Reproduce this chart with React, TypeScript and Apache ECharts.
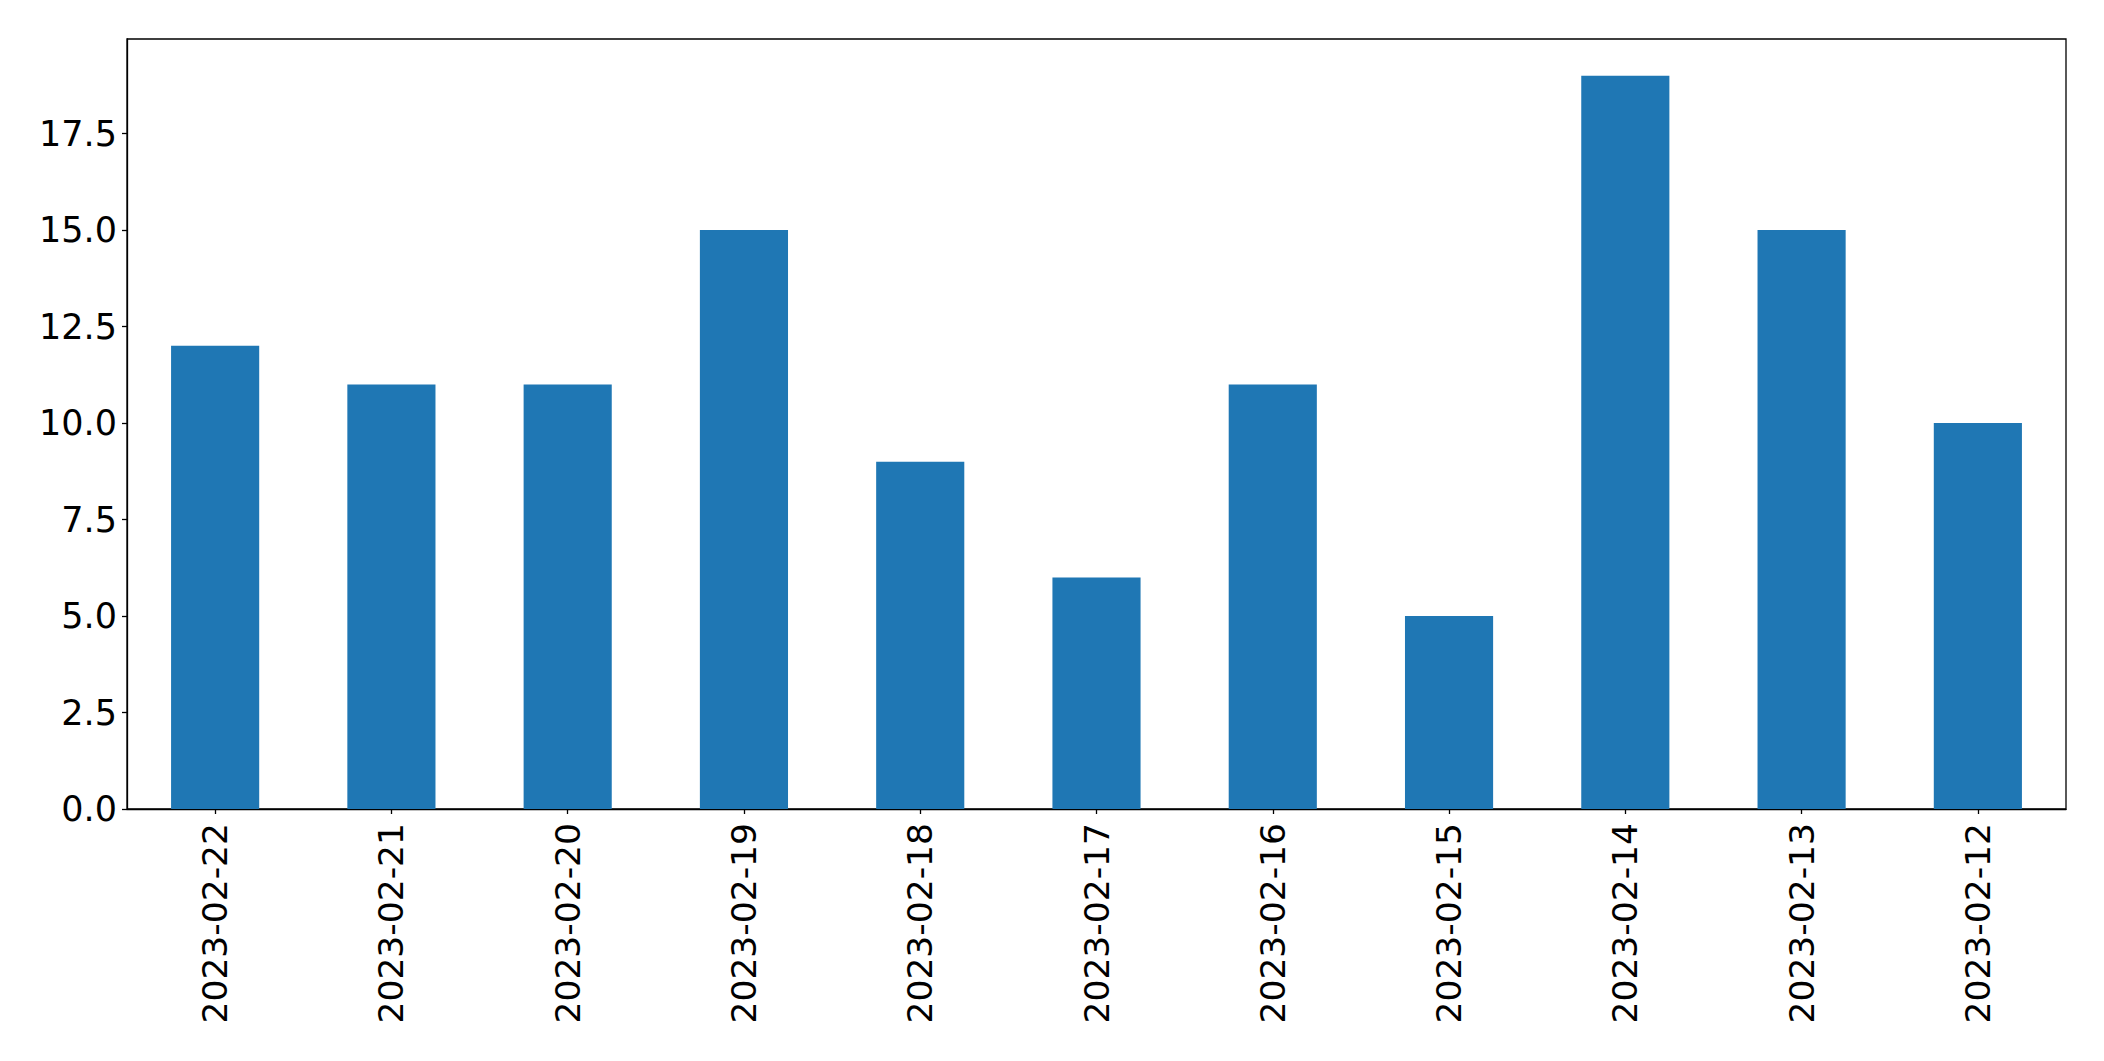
import React, { useEffect, useRef } from "react";
import * as echarts from "echarts";

const categories = [
  "2023-02-22", "2023-02-21", "2023-02-20", "2023-02-19", "2023-02-18", "2023-02-17",
  "2023-02-16", "2023-02-15", "2023-02-14", "2023-02-13", "2023-02-12",
];
const values = [12, 11, 11, 15, 9, 6, 11, 5, 19, 15, 10];
const yTicks = [0, 2.5, 5, 7.5, 10, 12.5, 15, 17.5];

export default function App() {
  const ref = useRef<HTMLDivElement>(null);
  useEffect(() => {
    document.body.style.margin = "0";
    const chart = echarts.init(ref.current!, null, { renderer: "svg" });
    const font = "DejaVu Sans";
    chart.setOption({
      animation: false,
      backgroundColor: "#fff",
      grid: {
        left: 127, right: 38, top: 39, bottom: 252,
        show: true, borderColor: "#000", borderWidth: 1.3, backgroundColor: "transparent",
      },
      xAxis: {
        type: "category",
        data: categories,
        boundaryGap: true,
        axisLine: { show: true, lineStyle: { color: "#000", width: 1.3 } },
        axisTick: { show: true, alignWithLabel: true, length: 5, lineStyle: { color: "#000", width: 1.3 } },
        axisLabel: { rotate: 90, fontSize: 34.5, fontFamily: font, color: "#000", margin: 14, interval: 0 },
        splitLine: { show: false },
      },
      yAxis: {
        type: "value",
        min: 0,
        max: 19.95,
        axisLine: { show: true, lineStyle: { color: "#000", width: 1.3 } },
        axisTick: { show: true, length: 5, customValues: yTicks, lineStyle: { color: "#000", width: 1.3 } },
        axisLabel: {
          fontSize: 35, fontFamily: font, color: "#000", margin: 10,
          customValues: yTicks,
          formatter: (v: number) => v.toFixed(1),
        },
        splitLine: { show: false },
      },
      series: [
        {
          type: "bar",
          data: values,
          barWidth: "50%",
          itemStyle: { color: "#1f77b4" },
        },
      ],
    });
    return () => chart.dispose();
  }, []);
  return <div ref={ref} style={{ width: 2104, height: 1061 }} />;
}
